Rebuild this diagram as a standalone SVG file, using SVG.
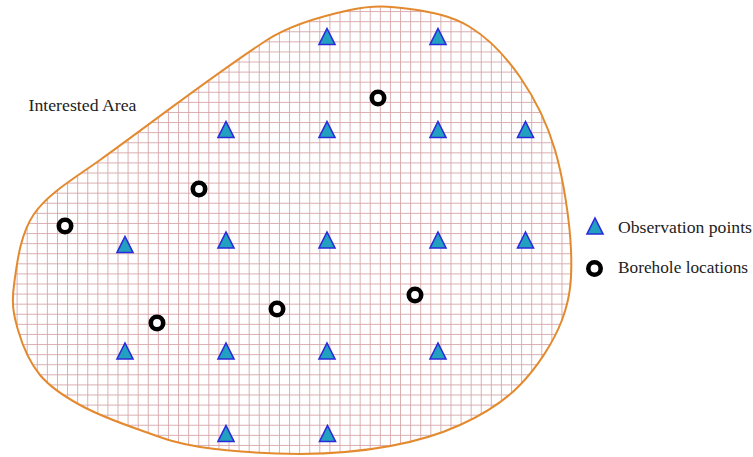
<svg xmlns="http://www.w3.org/2000/svg" width="753" height="457" viewBox="0 0 753 457">
<style>
.grid{stroke:#d6a6a9;stroke-width:0.9;fill:none}
.outline{fill:none;stroke:#e38a2e;stroke-width:2}
.obs{fill:#22a0bf;stroke:#2b2bdc;stroke-width:1.6;stroke-linejoin:miter}
.bh{fill:#ffffff;stroke:#000000;stroke-width:4.6}
.lbl{font-family:"Liberation Serif","DejaVu Serif",serif;font-size:16.5px;fill:#222222}
</style>
<defs>
<path id="blob" d="M14,285 C16.67,265.67 19.67,234.83 34,214 C48.33,193.17 75,178 100,160 C150,124 217,72.5 267,40 C292,23.75 326.17,15.17 350,10 C373.83,4.83 390,6.17 410,9 C430,11.83 451.67,15.67 470,27 C488.33,38.33 505.83,56.5 520,77 C534.17,97.5 546.5,121.17 555,150 C563.5,178.83 569.83,221.67 571,250 C572.17,278.33 570.5,297.5 562,320 C553.5,342.5 537,367.5 520,385 C503,402.5 482,415 460,425 C412,446.8 350,453.5 300,454 C267,453.7 226.67,451 200,447 C173.33,443 160,437 140,430 C120,423 96.67,414.17 80,405 C63.33,395.83 50.33,387.5 40,375 C29.67,362.5 22.33,345 18,330 C13.67,315 11.33,304.33 14,285 Z"/>
<clipPath id="clip"><use href="#blob"/></clipPath>
<path id="tri" d="M0,-9 L8,7 L-8,7 Z"/>
</defs>
<g id="area">
<g clip-path="url(#clip)">
<path class="grid" d="M7.02 0V457M17.11 0V457M27.2 0V457M37.29 0V457M47.38 0V457M57.47 0V457M67.56 0V457M77.65 0V457M87.74 0V457M97.83 0V457M107.92 0V457M118.01 0V457M128.1 0V457M138.19 0V457M148.28 0V457M158.37 0V457M168.46 0V457M178.55 0V457M188.64 0V457M198.73 0V457M208.82 0V457M218.91 0V457M229 0V457M239.09 0V457M249.18 0V457M259.27 0V457M269.36 0V457M279.45 0V457M289.54 0V457M299.63 0V457M309.72 0V457M319.81 0V457M329.9 0V457M339.99 0V457M350.08 0V457M360.17 0V457M370.26 0V457M380.35 0V457M390.44 0V457M400.53 0V457M410.62 0V457M420.71 0V457M430.8 0V457M440.89 0V457M450.98 0V457M461.07 0V457M471.16 0V457M481.25 0V457M491.34 0V457M501.43 0V457M511.52 0V457M521.61 0V457M531.7 0V457M541.79 0V457M551.88 0V457M561.97 0V457M572.06 0V457"/>
<path class="grid" d="M0 11.57H600M0 21.66H600M0 31.75H600M0 41.84H600M0 51.93H600M0 62.02H600M0 72.11H600M0 82.2H600M0 92.29H600M0 102.38H600M0 112.47H600M0 122.56H600M0 132.65H600M0 142.74H600M0 152.83H600M0 162.92H600M0 173.01H600M0 183.1H600M0 193.19H600M0 203.28H600M0 213.37H600M0 223.46H600M0 233.55H600M0 243.64H600M0 253.73H600M0 263.82H600M0 273.91H600M0 284H600M0 294.09H600M0 304.18H600M0 314.27H600M0 324.36H600M0 334.45H600M0 344.54H600M0 354.63H600M0 364.72H600M0 374.81H600M0 384.9H600M0 394.99H600M0 405.08H600M0 415.17H600M0 425.26H600M0 435.35H600M0 445.44H600M0 455.53H600"/>
</g>
<use href="#blob" class="outline"/>
<text class="lbl" x="28.5" y="111" textLength="108" lengthAdjust="spacingAndGlyphs">Interested Area</text>
</g>
<g id="observation-points">
<use href="#tri" class="obs" x="327" y="37.5"/>
<use href="#tri" class="obs" x="438" y="37.5"/>
<use href="#tri" class="obs" x="226" y="130.5"/>
<use href="#tri" class="obs" x="327" y="130.5"/>
<use href="#tri" class="obs" x="438" y="130.5"/>
<use href="#tri" class="obs" x="525.5" y="130.5"/>
<use href="#tri" class="obs" x="125" y="245.5"/>
<use href="#tri" class="obs" x="226" y="241"/>
<use href="#tri" class="obs" x="327" y="241"/>
<use href="#tri" class="obs" x="438" y="241"/>
<use href="#tri" class="obs" x="525.5" y="241"/>
<use href="#tri" class="obs" x="125" y="352"/>
<use href="#tri" class="obs" x="226" y="352"/>
<use href="#tri" class="obs" x="327" y="352"/>
<use href="#tri" class="obs" x="438" y="352"/>
<use href="#tri" class="obs" x="226" y="434.5"/>
<use href="#tri" class="obs" x="327.5" y="434.5"/>
</g>
<g id="boreholes">
<circle class="bh" cx="378" cy="98" r="6.2"/>
<circle class="bh" cx="199" cy="189" r="6.2"/>
<circle class="bh" cx="65" cy="226" r="6.2"/>
<circle class="bh" cx="157" cy="323" r="6.2"/>
<circle class="bh" cx="277" cy="309" r="6.2"/>
<circle class="bh" cx="415" cy="295" r="6.2"/>
</g>
<g id="legend">
<use href="#tri" class="obs" x="595" y="227"/>
<text class="lbl" x="618" y="232.5" textLength="134" lengthAdjust="spacingAndGlyphs">Observation points</text>
<circle class="bh" cx="594.5" cy="268.5" r="6.2"/>
<text class="lbl" x="618" y="273" textLength="130" lengthAdjust="spacingAndGlyphs">Borehole locations</text>
</g>
</svg>
